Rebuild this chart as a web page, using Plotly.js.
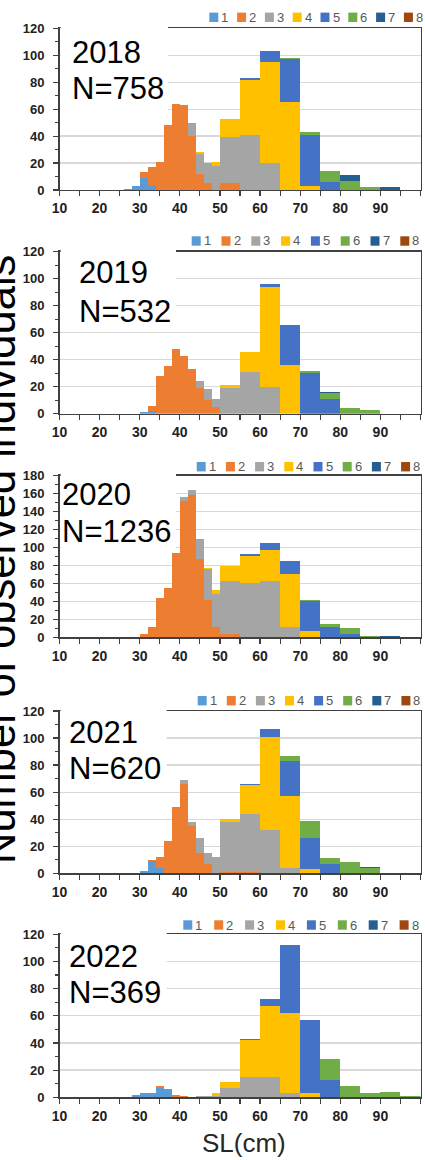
<!DOCTYPE html>
<html>
<head>
<meta charset="utf-8">
<script src="https://cdn.plot.ly/plotly-3.0.1.min.js"></script>
<style>
  html, body { margin: 0; padding: 0; background: #ffffff; }
  #chart { width: 425px; height: 1160px; }
</style>
</head>
<body>
<div id="chart"></div>
<script>
// SL class edges (cm): 2 cm classes below 50 cm, 5 cm classes above
const binEdges = [10,12,14,16,18,20,22,24,26,28,30,32,34,36,38,40,42,44,46,48,50,55,60,65,70,75,80,85,90,95,100];
const ageClasses = ['1','2','3','4','5','6','7','8'];
const classColors = ['#5b9bd5','#ed7d31','#a5a5a5','#ffc000','#4472c4','#70ad47','#255e91','#9e480e'];
const years = ['2018','2019','2020','2021','2022'];
const sampleSizes = ['N=758','N=532','N=1236','N=620','N=369'];
const yMax = [120,120,180,120,120];
const xTickVals = [10,20,30,40,50,60,70,80,90];

// Counts per age class (rows 1..8) in each SL class
//            10-26 cm          | 26 .. 50 cm (2 cm)               | 50 .. 100 cm (5 cm)
const counts2018 = [
  [0,0,0,0,0,0,0,0, 1,3,9,4,0,0,0,0,0,0,0,0,      0,0,0,0,0,0,0,0,0,0],
  [0,0,0,0,0,0,0,0, 0,0,4,13,21,48,64,63,40,12,5,0, 5,0,0,0,0,0,0,0,0,0],
  [0,0,0,0,0,0,0,0, 0,0,0,0,0,0,0,0,10,15,15,18,   34,41,20,0,0,0,0,0,0,0],
  [0,0,0,0,0,0,0,0, 0,0,0,0,0,0,0,0,0,1,0,3,       14,41,75,65,3,0,0,0,0,0],
  [0,0,0,0,0,0,0,0, 0,0,0,0,0,0,0,0,0,0,0,0,       0,1,8,32,38,6,0,0,0,0],
  [0,0,0,0,0,0,0,0, 0,0,0,0,0,0,0,0,0,0,0,0,       0,0,0,1,2,8,7,2,0,0],
  [0,0,0,0,0,0,0,0, 0,0,0,0,0,0,0,0,0,0,0,0,       0,0,0,0,0,0,4,0,2,0],
  [0,0,0,0,0,0,0,0, 0,0,0,0,0,0,0,0,0,0,0,0,       0,0,0,0,0,0,0,0,0,0]
];
const counts2019 = [
  [0,0,0,0,0,0,0,0, 0,0,1,2,0,0,0,0,0,0,0,0,       0,0,0,0,0,0,0,0,0,0],
  [0,0,0,0,0,0,0,0, 0,0,0,4,28,35,48,43,33,19,10,5, 0,0,0,0,0,0,0,0,0,0],
  [0,0,0,0,0,0,0,0, 0,0,0,0,0,0,0,0,0,5,8,6,       19,31,20,0,0,0,0,0,0,0],
  [0,0,0,0,0,0,0,0, 0,0,0,0,0,0,0,0,0,0,0,0,       2,15,74,36,0,0,0,0,0,0],
  [0,0,0,0,0,0,0,0, 0,0,0,0,0,0,0,0,0,0,0,0,       0,0,2,30,30,11,0,0,0,0],
  [0,0,0,0,0,0,0,0, 0,0,0,0,0,0,0,0,0,0,0,0,       0,0,0,0,2,4,4,3,0,0],
  [0,0,0,0,0,0,0,0, 0,0,0,0,0,0,0,0,0,0,0,0,       0,0,0,0,0,1,0,0,0,0],
  [0,0,0,0,0,0,0,0, 0,0,0,0,0,0,0,0,0,0,0,0,       0,0,0,0,0,0,0,0,0,0]
];
const counts2020 = [
  [0,0,0,0,0,0,0,0, 0,0,0,0,0,0,0,0,0,0,0,0,       0,0,0,0,0,0,0,0,0,0],
  [0,0,0,0,0,0,0,0, 0,0,4,12,44,55,94,152,158,87,41,11, 4,0,0,0,0,0,0,0,0,0],
  [0,0,0,0,0,0,0,0, 0,0,0,0,0,0,0,4,6,22,35,37,    59,60,63,12,0,0,0,0,0,0],
  [0,0,0,0,0,0,0,0, 0,0,0,0,0,0,0,0,0,0,1,5,       16,31,34,58,7,0,0,0,0,0],
  [0,0,0,0,0,0,0,0, 0,0,0,0,0,0,0,0,0,0,0,0,       0,2,8,15,33,11,4,0,0,0],
  [0,0,0,0,0,0,0,0, 0,0,0,0,0,0,0,0,0,0,0,0,       0,0,0,0,2,4,6,2,0,0],
  [0,0,0,0,0,0,0,0, 0,0,0,0,0,0,0,0,0,0,0,0,       0,0,0,0,0,0,0,0,2,0],
  [0,0,0,0,0,0,0,0, 0,0,0,0,0,0,0,0,0,0,0,0,       0,0,0,0,0,0,0,0,0,0]
];
const counts2021 = [
  [0,0,0,0,0,0,0,0, 0,0,2,9,4,0,0,0,0,0,0,0,       0,0,0,0,0,0,0,0,0,0],
  [0,0,0,0,0,0,0,0, 0,0,0,1,8,24,49,66,35,15,7,0,  1,1,0,0,0,0,0,0,0,0],
  [0,0,0,0,0,0,0,0, 0,0,0,0,0,0,0,3,3,11,8,12,     37,43,32,4,0,0,0,0,0,0],
  [0,0,0,0,0,0,0,0, 0,0,0,0,0,0,0,0,0,0,0,0,       2,21,69,53,3,0,0,0,0,0],
  [0,0,0,0,0,0,0,0, 0,0,0,0,0,0,0,0,0,0,0,0,       0,1,6,26,23,7,0,0,0,0],
  [0,0,0,0,0,0,0,0, 0,0,0,0,0,0,0,0,0,0,0,0,       0,0,0,4,13,4,8,4,0,0],
  [0,0,0,0,0,0,0,0, 0,0,0,0,0,0,0,0,0,0,0,0,       0,0,0,0,0,0,0,1,0,0],
  [0,0,0,0,0,0,0,0, 0,0,0,0,0,0,0,0,0,0,0,0,       0,0,0,0,0,0,0,0,0,0]
];
const counts2022 = [
  [0,0,0,0,0,0,0,0, 0,2,3,3,7,6,0,0,0,0,0,0,       0,0,0,0,0,0,0,0,0,0],
  [0,0,0,0,0,0,0,0, 0,0,0,0,1,0,2,1,0,0,0,0,       0,0,0,0,0,0,0,0,0,0],
  [0,0,0,0,0,0,0,0, 0,0,0,0,0,0,0,0,0,1,1,1,       7,15,15,3,0,0,0,0,0,0],
  [0,0,0,0,0,0,0,0, 0,0,0,0,0,0,0,0,0,0,0,2,       4,27,52,59,3,0,0,0,0,0],
  [0,0,0,0,0,0,0,0, 0,0,0,0,0,0,0,0,0,0,0,0,       0,1,5,50,54,13,0,0,0,0],
  [0,0,0,0,0,0,0,0, 0,0,0,0,0,0,0,0,0,0,0,0,       0,0,0,0,0,15,8,3,4,1],
  [0,0,0,0,0,0,0,0, 0,0,0,0,0,0,0,0,0,0,0,0,       0,0,0,0,0,0,0,0,0,0],
  [0,0,0,0,0,0,0,0, 0,0,0,0,0,0,0,0,0,0,0,0,       0,0,0,0,0,0,0,0,0,0]
];
const countsByYear = [counts2018, counts2019, counts2020, counts2021, counts2022];

// ---- page geometry (pixels) ----
const W = 425, H = 1160;
const px = x => x / W;
const py = y => 1 - y / H;
const plotLeft = 59.5, plotRight = 420.5;
const panelTop = [28.3, 251.7, 475.7, 711, 934.3];
const panelBottom = [190, 413.7, 637.3, 873.3, 1097.3];
// white label box covering the top-left corner of each panel
const boxRight = [168, 176, 176, 166.7, 166.7];
const boxBottom = [118, 315, 550, 775, 1005];
// year / N label positions (left x, centre y of each line)
const labelX = [70, 77, 60, 67, 67];
const yearY = [52.5, 272.5, 494.5, 732.5, 956];
const nY = [88.5, 311, 531.5, 768.5, 992.5];
// legend rows
const legX0 = [209.3, 191.7, 196.7, 197.7, 183.3];
const legPitch = [27.8, 29.8, 29.2, 29.1, 30.9];
const legY = [17.3, 241, 466.7, 700.7, 925];

const centers = [], widths = [];
for (let i = 0; i < binEdges.length - 1; i++) {
  centers.push((binEdges[i] + binEdges[i + 1]) / 2);
  widths.push(binEdges[i + 1] - binEdges[i]);
}

const traces = [];
const layout = {
  width: W, height: H,
  margin: {l: 0, r: 0, t: 0, b: 0},
  paper_bgcolor: '#ffffff',
  plot_bgcolor: '#ffffff',
  barmode: 'stack',
  showlegend: false,
  shapes: [],
  annotations: []
};

const axisColor = '#404040';
const tickFont = {family: 'Liberation Sans, Arial, sans-serif', size: 13, color: '#222222', weight: 'bold'};

years.forEach((yr, k) => {
  const sfx = k === 0 ? '' : String(k + 1);
  const xa = 'x' + sfx, ya = 'y' + sfx;
  countsByYear[k].forEach((row, c) => {
    traces.push({
      type: 'bar',
      name: ageClasses[c],
      x: centers,
      y: row,
      width: widths,
      xaxis: xa, yaxis: ya,
      marker: {color: classColors[c], line: {width: 0}},
      hoverinfo: 'skip'
    });
  });

  layout['xaxis' + sfx] = {
    domain: [px(plotLeft), px(plotRight)],
    anchor: ya,
    range: [10, 100],
    tickmode: 'array',
    tickvals: xTickVals,
    ticks: 'outside', ticklen: 5, tickwidth: 1.2, tickcolor: axisColor,
    minor: {tickmode: 'linear', tick0: 10, dtick: 5, ticks: 'outside', ticklen: 5, tickwidth: 1.2, tickcolor: axisColor, showgrid: false},
    showline: true, linecolor: axisColor, linewidth: 1.4, mirror: true,
    showgrid: false, zeroline: false,
    tickfont: {family: tickFont.family, size: 14, color: tickFont.color, weight: 'bold'},
    fixedrange: true
  };
  layout['yaxis' + sfx] = {
    domain: [py(panelBottom[k]), py(panelTop[k])],
    anchor: xa,
    range: [0, yMax[k]],
    tick0: 0, dtick: 20,
    ticks: 'outside', ticklen: 5, tickwidth: 1.2, tickcolor: axisColor,
    minor: {dtick: 10, ticks: 'outside', ticklen: 3, tickwidth: 1.2, tickcolor: axisColor, showgrid: false},
    ticklabelstandoff: 6,
    showline: true, linecolor: axisColor, linewidth: 1.4, mirror: true,
    showgrid: true, gridcolor: '#d9d9d9', gridwidth: 1.3,
    zeroline: false,
    tickfont: tickFont,
    fixedrange: true
  };

  // label box
  layout.shapes.push({
    type: 'rect', xref: 'paper', yref: 'paper', layer: 'above',
    x0: px(plotLeft + 1.2), x1: px(boxRight[k]),
    y0: py(boxBottom[k]), y1: py(panelTop[k] - 4),
    fillcolor: '#ffffff', line: {width: 0}
  });
  layout.annotations.push({
    xref: 'paper', yref: 'paper', x: px(labelX[k]), y: py(yearY[k]),
    xanchor: 'left', yanchor: 'middle', showarrow: false, text: yr,
    font: {family: 'Liberation Sans, Arial, sans-serif', size: 31, color: '#000000'}
  });
  layout.annotations.push({
    xref: 'paper', yref: 'paper', x: px(labelX[k]), y: py(nY[k]),
    xanchor: 'left', yanchor: 'middle', showarrow: false, text: sampleSizes[k],
    font: {family: 'Liberation Sans, Arial, sans-serif', size: 31, color: '#000000'}
  });

  // legend row: colour key and class number
  ageClasses.forEach((lab, c) => {
    const x0 = legX0[k] + c * legPitch[k];
    layout.shapes.push({
      type: 'rect', xref: 'paper', yref: 'paper', layer: 'above',
      x0: px(x0), x1: px(x0 + 9), y0: py(legY[k] + 4.7), y1: py(legY[k] - 4.7),
      fillcolor: classColors[c], line: {width: 0}
    });
    layout.annotations.push({
      xref: 'paper', yref: 'paper', x: px(x0 + 10), y: py(legY[k]),
      xanchor: 'left', yanchor: 'middle', showarrow: false, text: lab,
      font: {family: 'Liberation Sans, Arial, sans-serif', size: 13, color: '#595959'}
    });
  });
});

// shared axis titles
layout.annotations.push({
  xref: 'paper', yref: 'paper', x: px(0), y: py(560),
  xanchor: 'center', yanchor: 'middle', showarrow: false, textangle: -90,
  text: 'Number of observed individuals',
  font: {family: 'Liberation Sans, Arial, sans-serif', size: 43.5, color: '#000000'}
});
layout.annotations.push({
  xref: 'paper', yref: 'paper', x: px(243.5), y: py(1143),
  xanchor: 'center', yanchor: 'middle', showarrow: false,
  text: 'SL(cm)',
  font: {family: 'Liberation Sans, Arial, sans-serif', size: 26, color: '#262626'}
});

Plotly.newPlot('chart', traces, layout, {displayModeBar: false, staticPlot: true});
</script>
</body>
</html>
